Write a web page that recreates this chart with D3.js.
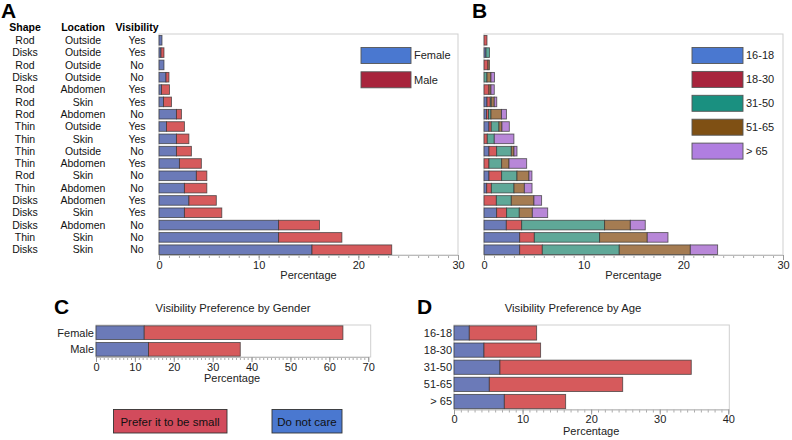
<!DOCTYPE html>
<html><head><meta charset="utf-8">
<script src="https://cdn.jsdelivr.net/npm/d3@7/dist/d3.min.js"></script>
<style>
html,body{margin:0;padding:0;background:#fff;}
svg{display:block;font-family:"Liberation Sans",Arial,sans-serif;}
</style></head>
<body><svg id="c" width="792" height="440"></svg>
<script>
// ---------- DATA ----------
const shapes = ["Rod","Disks","Rod","Disks","Rod","Rod","Rod","Thin","Thin","Thin","Thin","Rod","Thin","Disks","Disks","Disks","Thin","Disks"];
const locations = ["Outside","Outside","Outside","Outside","Abdomen","Skin","Abdomen","Outside","Skin","Outside","Abdomen","Skin","Abdomen","Abdomen","Skin","Abdomen","Skin","Skin"];
const visibility = ["Yes","Yes","No","No","Yes","Yes","No","Yes","Yes","No","Yes","No","No","Yes","Yes","No","No","No"];
const female = [0.3,0.2,0.5,0.7,0.25,0.45,1.75,0.75,1.75,1.75,2.05,3.75,2.55,3.0,2.55,12.0,12.0,15.35];
const male   = [0,0.3,0,0.3,0.8,0.8,0.5,1.8,1.25,1.5,2.2,1.05,2.25,2.75,3.75,4.1,6.35,8.0];
const ageGroups = ["16-18","18-30","31-50","51-65","> 65"];
const age16_18 = [0,0.2,0,0,0,0.3,0.25,0.5,0,0.5,0,0.5,0.27,0,1.27,2.24,3.58,3.58];
const age18_30 = [0.3,0,0.4,0,0.5,0.33,0.2,0.23,0.33,0.77,0.5,1.27,0.47,1.24,1.0,1.54,1.47,2.27];
const age31_50 = [0,0.35,0,0.3,0,0.1,0.25,0.77,0.7,1.47,1.27,1.54,2.27,1.5,1.27,8.32,6.55,7.72];
const age51_65 = [0,0,0.15,0.4,0.2,0.3,1.05,0.3,0,0.27,0.74,1.2,1.04,2.27,1.31,2.58,4.78,7.13];
const age65    = [0,0,0,0.35,0.33,0.25,0.5,0.74,1.97,0.3,1.77,0.3,0.77,0.77,1.54,1.5,2.08,2.74];
const genders = ["Female","Male"];
const genderDontCare = [12.4,13.5];
const genderSmall    = [51.1,23.6];
const ageDontCare = [2.23,4.37,6.7,5.15,7.34];
const ageSmall    = [9.82,8.26,27.9,19.45,8.94];
const xTicksA = [0,10,20,30];
const xTicksC = [0,10,20,30,40,50,60,70];
const xTicksD = [0,10,20,30,40];

// ---------- STYLE ----------
const barBlue="#6b7ab8", barRed="#d65a5c", barTeal="#5fa898", barBrown="#a57c52", barPurple="#b887d8";
const legBlue="#4a78d0", legRed="#a8243c", legTeal="#1a9080", legBrown="#7f5014", legPurple="#b07ee0";
const svg = d3.select("#c");
const FS = 10;

function frame(x0,x1,y0,y1){
  svg.append("rect").attr("x",x0).attr("y",y0).attr("width",x1-x0).attr("height",y1-y0)
    .attr("fill","none").attr("stroke","#cfcfcf").attr("stroke-width",1);
}
function xAxis(x, y, ticks, maxv, titleY){
  const g = svg.append("g").attr("transform",`translate(0,${y})`);
  g.call(d3.axisBottom(x).tickValues(d3.range(0,maxv+0.001,1)).tickSize(3).tickFormat(""))
   .call(a=>a.select(".domain").remove())
   .call(a=>a.selectAll("line").attr("stroke","#aaa"));
  const g2 = svg.append("g").attr("transform",`translate(0,${y})`);
  g2.call(d3.axisBottom(x).tickValues(ticks).tickSize(5).tickPadding(1))
   .call(a=>a.select(".domain").attr("stroke","#bbb"))
   .call(a=>a.selectAll("line").attr("stroke","#999"))
   .call(a=>a.selectAll("text").attr("font-size",FS+1).attr("fill","#222").attr("font-family","Liberation Sans, Arial, sans-serif"));
  svg.append("text").attr("x",(x.range()[0]+x.range()[1])/2).attr("y",titleY)
    .attr("text-anchor","middle").attr("font-size",FS+1).attr("fill","#222").text("Percentage");
}
function letter(t,x,y){
  svg.append("text").attr("x",x).attr("y",y).attr("font-size",21).attr("font-weight","bold").attr("fill","#000").text(t);
}

// ---------- PANEL A ----------
const rows = d3.range(shapes.length);
const yA = d3.scaleBand().domain(rows).range([34,256]).paddingInner(0.22).paddingOuter(0.12);
const xA = d3.scaleLinear().domain([0,30]).range([159,458]);
letter("A",1,18);
const hdr = [["Shape",25],["Location",83],["Visibility",137]];
hdr.forEach(h=>svg.append("text").attr("x",h[1]).attr("y",31).attr("text-anchor","middle")
  .attr("font-size",FS+0.5).attr("font-weight","bold").attr("fill","#000").text(h[0]));
[[shapes,25],[locations,83],[visibility,137]].forEach(([arr,cx])=>{
  svg.append("g").selectAll("text").data(rows).join("text")
    .attr("x",cx).attr("y",d=>yA(d)+yA.bandwidth()/2).attr("dy","0.35em")
    .attr("text-anchor","middle").attr("font-size",FS+0.5).attr("fill","#111").text(d=>arr[d]);
});
frame(159,458,34,255);
const segA = [];
rows.forEach(i=>{
  segA.push({i, x0:0, x1:female[i], c:barBlue});
  segA.push({i, x0:female[i], x1:female[i]+male[i], c:barRed});
});
svg.append("g").selectAll("rect").data(segA.filter(d=>d.x1-d.x0>0)).join("rect")
  .attr("x",d=>xA(d.x0)).attr("width",d=>xA(d.x1)-xA(d.x0))
  .attr("y",d=>yA(d.i)).attr("height",yA.bandwidth())
  .attr("fill",d=>d.c).attr("stroke","#333").attr("stroke-opacity",0.75).attr("stroke-width",0.9);
xAxis(xA,255,xTicksA,30,279);
// legend A
[["Female",legBlue],["Male",legRed]].forEach((d,k)=>{
  svg.append("rect").attr("x",361).attr("y",47.5+k*24.3).attr("width",50).attr("height",16)
    .attr("fill",d[1]).attr("stroke","#555").attr("stroke-width",0.9);
  svg.append("text").attr("x",414).attr("y",55.5+k*24.3).attr("dy","0.35em")
    .attr("font-size",FS+1).attr("fill","#222").text(d[0]);
});

// ---------- PANEL B ----------
const xB = d3.scaleLinear().domain([0,30]).range([484,783]);
letter("B",472,18);
frame(484,783,34,255);
const ageSeries = [age16_18,age18_30,age31_50,age51_65,age65];
const ageBarCols = [barBlue,barRed,barTeal,barBrown,barPurple];
const ageLegCols = [legBlue,legRed,legTeal,legBrown,legPurple];
const segB = [];
rows.forEach(i=>{
  let acc=0;
  ageSeries.forEach((s,k)=>{ segB.push({i,x0:acc,x1:acc+s[i],c:ageBarCols[k]}); acc+=s[i]; });
});
svg.append("g").selectAll("rect").data(segB.filter(d=>d.x1-d.x0>0)).join("rect")
  .attr("x",d=>xB(d.x0)).attr("width",d=>xB(d.x1)-xB(d.x0))
  .attr("y",d=>yA(d.i)).attr("height",yA.bandwidth())
  .attr("fill",d=>d.c).attr("stroke","#333").attr("stroke-opacity",0.75).attr("stroke-width",0.9);
xAxis(xB,255,xTicksA,30,279);
ageGroups.forEach((g,k)=>{
  svg.append("rect").attr("x",692).attr("y",47.5+k*23.9).attr("width",51).attr("height",16)
    .attr("fill",ageLegCols[k]).attr("stroke","#555").attr("stroke-width",0.9);
  svg.append("text").attr("x",746).attr("y",55.5+k*23.9).attr("dy","0.35em")
    .attr("font-size",FS+1).attr("fill","#222").text(g);
});

// ---------- PANEL C ----------
letter("C",54,314);
svg.append("text").attr("x",233).attr("y",312).attr("text-anchor","middle")
  .attr("font-size",FS+1.3).attr("fill","#222").text("Visibility Preference by Gender");
const xC = d3.scaleLinear().domain([0,70]).range([96,368.2]);
const yC = d3.scaleBand().domain(genders).range([325,357]).paddingInner(0.18).paddingOuter(0.05);
frame(96,370.7,325,357);
const segC=[];
genders.forEach((g,i)=>{
  segC.push({g,x0:0,x1:genderDontCare[i],c:barBlue});
  segC.push({g,x0:genderDontCare[i],x1:genderDontCare[i]+genderSmall[i],c:barRed});
});
svg.append("g").selectAll("rect").data(segC).join("rect")
  .attr("x",d=>xC(d.x0)).attr("width",d=>xC(d.x1)-xC(d.x0))
  .attr("y",d=>yC(d.g)).attr("height",yC.bandwidth())
  .attr("fill",d=>d.c).attr("stroke","#333").attr("stroke-opacity",0.75).attr("stroke-width",0.9);
svg.append("g").selectAll("text").data(genders).join("text")
  .attr("x",94).attr("y",d=>yC(d)+yC.bandwidth()/2).attr("dy","0.35em")
  .attr("text-anchor","end").attr("font-size",FS+1).attr("fill","#222").text(d=>d);
xAxis(xC,357,xTicksC,70,382);
// bottom legend
svg.append("rect").attr("x",113.5).attr("y",409.5).attr("width",113.5).attr("height",23.5)
  .attr("fill","#d24b5c").attr("stroke","#333").attr("stroke-width",0.9);
svg.append("text").attr("x",170).attr("y",421.5).attr("dy","0.35em").attr("text-anchor","middle")
  .attr("font-size",FS+1.5).attr("fill","#111").text("Prefer it to be small");
svg.append("rect").attr("x",272).attr("y",409.5).attr("width",70).attr("height",23.5)
  .attr("fill",legBlue).attr("stroke","#333").attr("stroke-width",0.9);
svg.append("text").attr("x",307).attr("y",421.5).attr("dy","0.35em").attr("text-anchor","middle")
  .attr("font-size",FS+1.5).attr("fill","#111").text("Do not care");

// ---------- PANEL D ----------
letter("D",417,314);
svg.append("text").attr("x",573).attr("y",312).attr("text-anchor","middle")
  .attr("font-size",FS+1.3).attr("fill","#222").text("Visibility Preference by Age");
const xD = d3.scaleLinear().domain([0,40]).range([454,728.3]);
const yD = d3.scaleBand().domain(ageGroups).range([325,409.5]).paddingInner(0.17).paddingOuter(0.05);
frame(454,729.3,325,409.5);
const segD=[];
ageGroups.forEach((g,i)=>{
  segD.push({g,x0:0,x1:ageDontCare[i],c:barBlue});
  segD.push({g,x0:ageDontCare[i],x1:ageDontCare[i]+ageSmall[i],c:barRed});
});
svg.append("g").selectAll("rect").data(segD).join("rect")
  .attr("x",d=>xD(d.x0)).attr("width",d=>xD(d.x1)-xD(d.x0))
  .attr("y",d=>yD(d.g)).attr("height",yD.bandwidth())
  .attr("fill",d=>d.c).attr("stroke","#333").attr("stroke-opacity",0.75).attr("stroke-width",0.9);
svg.append("g").selectAll("text").data(ageGroups).join("text")
  .attr("x",452).attr("y",d=>yD(d)+yD.bandwidth()/2).attr("dy","0.35em")
  .attr("text-anchor","end").attr("font-size",FS+1).attr("fill","#222").text(d=>d);
xAxis(xD,409.5,xTicksD,40,435);
</script></body></html>
